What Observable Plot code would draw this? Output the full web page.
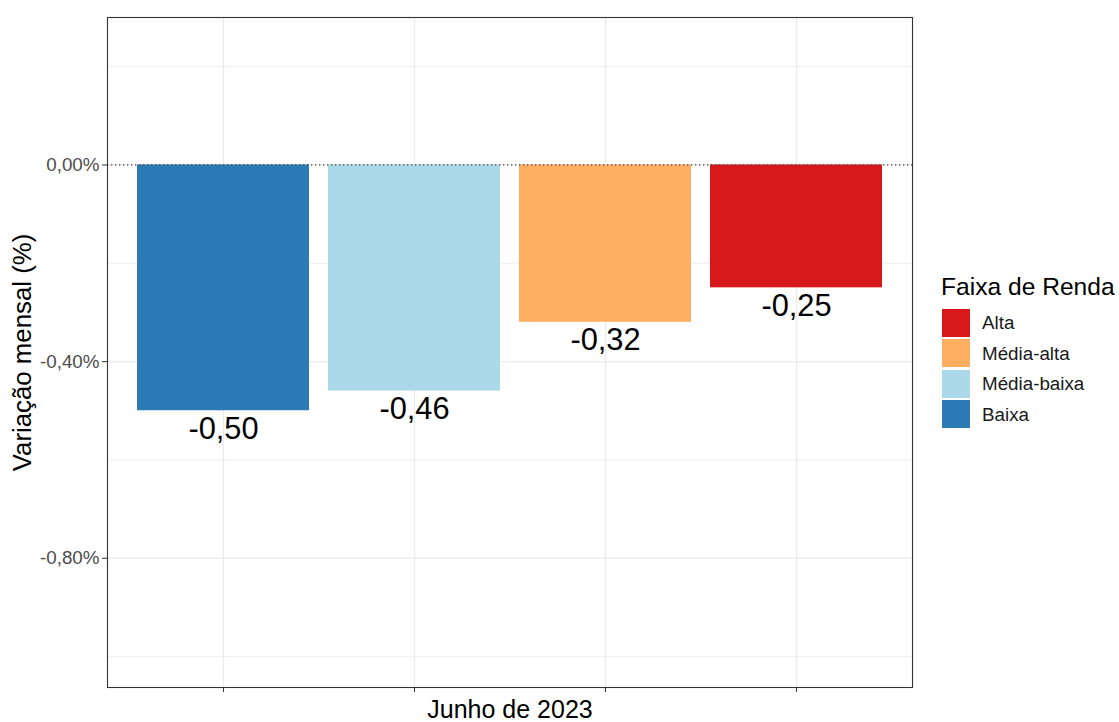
<!DOCTYPE html>
<html>
<head>
<meta charset="utf-8">
<script src="https://cdn.jsdelivr.net/npm/d3@7"></script>
<script src="https://cdn.jsdelivr.net/npm/@observablehq/plot@0.6"></script>
<style>
  html, body { margin: 0; padding: 0; background: #fff; }
  #wrap { position: relative; width: 1119px; height: 722px; font-family: "Liberation Sans", Arial, sans-serif; }
  #legend { position: absolute; left: 0; top: 0; }
  .lg-title { position: absolute; left: 941px; top: 275px; font-size: 24.6px; line-height: 24px; color: #000; white-space: nowrap; }
  .lg-row { position: absolute; left: 942px; height: 28px; display: flex; align-items: center; white-space: nowrap; }
  .lg-key { width: 28px; height: 28px; }
  .lg-label { margin-left: 12px; font-size: 18.8px; line-height: 19px; color: #1a1a1a; }
</style>
</head>
<body>
<div id="wrap"></div>
<script>
// ---- data ----
const categories = ["Baixa", "Média-baixa", "Média-alta", "Alta"];
const values = [-0.50, -0.46, -0.32, -0.25];
const valueLabels = ["-0,50", "-0,46", "-0,32", "-0,25"];
const colors = ["#2C7BB6", "#ABD9E9", "#FDAE61", "#D7191C"];
const legendOrder = ["Alta", "Média-alta", "Média-baixa", "Baixa"];
const yMajorTicks = [0, -0.4, -0.8];
const yMinorTicks = [0.2, -0.2, -0.6, -1.0];
const xTitle = "Junho de 2023";
const yTitle = "Variação mensal (%)";
const legendTitle = "Faixa de Renda";

const rows = categories.map((c, i) => ({cat: c, val: values[i], label: valueLabels[i]}));
const fmt = d => d.toFixed(2).replace(".", ",") + "%";

const chart = Plot.plot({
  width: 1119,
  height: 722,
  marginLeft: 107,
  marginRight: 207,
  marginTop: 17,
  marginBottom: 35,
  style: {fontFamily: "'Liberation Sans', Arial, sans-serif", background: "white", overflow: "visible"},
  x: {domain: categories, paddingInner: 0.1, paddingOuter: 0.15, axis: null},
  y: {domain: [-1.063, 0.30], axis: null},
  color: {domain: categories, range: colors},
  marks: [
    Plot.ruleY(yMinorTicks, {stroke: "#EBEBEB", strokeWidth: 0.8}),
    Plot.ruleY(yMajorTicks, {stroke: "#EBEBEB", strokeWidth: 1.3}),
    Plot.ruleX(categories, {x: d => d, stroke: "#EBEBEB", strokeWidth: 1.3}),
    Plot.barY(rows, {x: "cat", y: "val", fill: "cat"}),
    Plot.ruleY([0], {stroke: "#444", strokeWidth: 1.3, strokeDasharray: "1.3,2.7"}),
    Plot.text(rows, {x: "cat", y: "val", text: "label", lineAnchor: "top", dy: 6, fontSize: 30.8, fill: "#000"}),
    Plot.frame({stroke: "#333", strokeWidth: 1.1}),
    Plot.axisY({ticks: yMajorTicks, tickFormat: fmt, tickSize: 5, tickPadding: 3, fontSize: 18.8, color: "#4D4D4D", stroke: "#333", label: null}),
    Plot.axisX({tickSize: 5, tickFormat: () => "", stroke: "#333", label: null}),
    Plot.text([xTitle], {text: d => d, frameAnchor: "bottom", lineAnchor: "top", dy: 13, fontSize: 25, fill: "#000"}),
    Plot.text([yTitle], {text: d => d, frameAnchor: "left", rotate: -90, dx: -85, textAnchor: "middle", lineAnchor: "middle", fontSize: 25.8, fill: "#000"})
  ]
});

const wrap = document.getElementById("wrap");
wrap.appendChild(chart);

// legend
const legend = document.createElement("div");
legend.id = "legend";
const t = document.createElement("div");
t.className = "lg-title";
t.textContent = legendTitle;
legend.appendChild(t);
legendOrder.forEach((name, i) => {
  const row = document.createElement("div");
  row.className = "lg-row";
  row.style.top = (308.5 + i * 30.6) + "px";
  const key = document.createElement("div");
  key.className = "lg-key";
  key.style.background = colors[categories.indexOf(name)];
  const lab = document.createElement("span");
  lab.className = "lg-label";
  lab.textContent = name;
  row.appendChild(key);
  row.appendChild(lab);
  legend.appendChild(row);
});
wrap.appendChild(legend);
</script>
</body>
</html>
